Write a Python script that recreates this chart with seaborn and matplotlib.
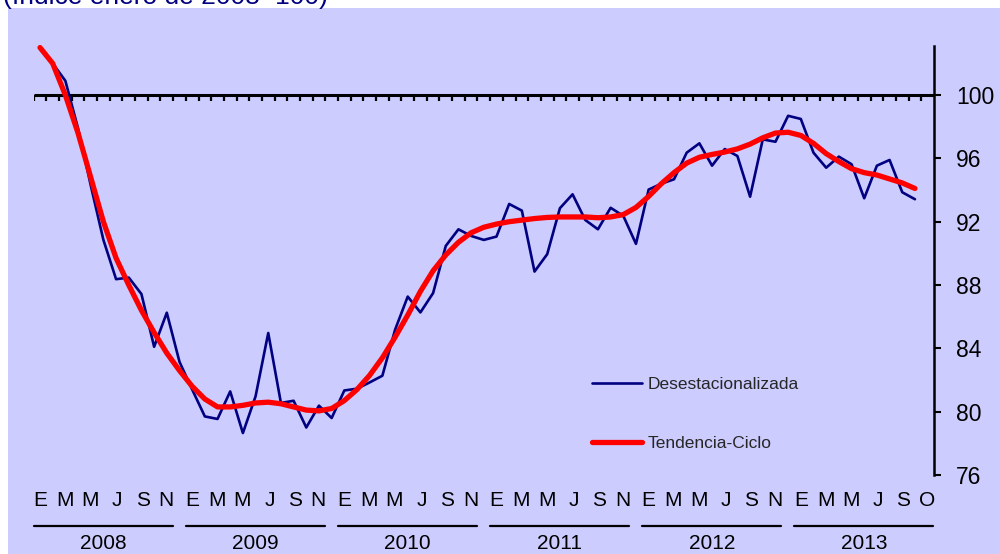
import numpy as np
import pandas as pd
import matplotlib
matplotlib.use("Agg")
import matplotlib.pyplot as plt
import matplotlib.transforms as mtransforms
from matplotlib.patches import Rectangle
from matplotlib.lines import Line2D
import seaborn as sns

# ------------------------------------------------------------
# Data (monthly index, Jan 2008 = 100), Jan 2008 .. Oct 2013
# ------------------------------------------------------------
desestacionalizada = [
    103.0, 102.0, 100.9, 97.9, 94.3, 90.85, 88.37, 88.47, 87.43, 84.1, 86.25, 83.15,
    81.4, 79.7, 79.54, 81.28, 78.65, 80.97, 84.97, 80.55, 80.69, 79.0, 80.38, 79.6,
    81.34, 81.45, 81.85, 82.27, 85.17, 87.27, 86.27, 87.49, 90.47, 91.52, 91.1, 90.85,
    91.06, 93.12, 92.7, 88.85, 89.95, 92.85, 93.73, 92.11, 91.52, 92.88, 92.37, 90.6,
    94.03, 94.4, 94.68, 96.36, 96.95, 95.54, 96.59, 96.15, 93.58, 97.2, 97.05, 98.69,
    98.49, 96.36, 95.41, 96.11, 95.63, 93.48, 95.54, 95.9, 93.86, 93.42,
]
tendencia_ciclo = [
    103.0, 102.0, 100.0, 97.6, 94.8, 92.0, 89.7, 88.0, 86.4, 85.0, 83.7, 82.6,
    81.6, 80.8, 80.3, 80.3, 80.4, 80.55, 80.6, 80.5, 80.3, 80.1, 80.05, 80.2,
    80.7, 81.4, 82.3, 83.4, 84.7, 86.1, 87.6, 88.9, 89.9, 90.7, 91.3, 91.65,
    91.85, 92.0, 92.1, 92.2, 92.27, 92.3, 92.3, 92.3, 92.25, 92.3, 92.45, 92.9,
    93.6, 94.4, 95.1, 95.7, 96.07, 96.25, 96.4, 96.6, 96.9, 97.3, 97.6, 97.65,
    97.45, 96.95, 96.3, 95.8, 95.35, 95.1, 94.95, 94.7, 94.45, 94.1,
]
years = ["2008", "2009", "2010", "2011", "2012", "2013"]
month_labels = ["E", "M", "M", "J", "S", "N"]
last_month_labels = ["E", "M", "M", "J", "S", "O"]
y_ticks = [76, 80, 84, 88, 92, 96, 100]
title = "(índice enero de 2008=100)"

NAVY = "#000080"
RED = "#FF0000"
LAVENDER = "#CCCCFF"

df = pd.DataFrame({
    "mes": np.arange(len(desestacionalizada)),
    "Desestacionalizada": desestacionalizada,
    "Tendencia-Ciclo": tendencia_ciclo,
})

sns.set_style("white")
plt.rcParams["font.family"] = ["Liberation Sans", "DejaVu Sans"]

fig = plt.figure(figsize=(10, 5.54), dpi=100, facecolor="white")
# lavender panel (the white strip on top/left is part of the original)
bg = Rectangle((0.008, 0), 0.992, 1 - 8 / 554, transform=fig.transFigure,
               facecolor=LAVENDER, edgecolor="none", zorder=-10)
fig.patches.append(bg)
# subtitle is clipped by the top edge in the original crop
fig.text(0.003, 1 - 4 / 554, title, color=NAVY, fontsize=19, ha="left", va="baseline")

ax = fig.add_axes([0.03366, 0.1426, 0.9003, 0.7744])
ax.set_facecolor("none")

sns.lineplot(data=df, x="mes", y="Desestacionalizada", color=NAVY, lw=1.9,
             label="Desestacionalizada", ax=ax, zorder=3)
sns.lineplot(data=df, x="mes", y="Tendencia-Ciclo", color=RED, lw=3.8,
             label="Tendencia-Ciclo", ax=ax, zorder=4)

ax.set_xlim(-0.5, 70.5)
ax.set_ylim(76, 103.1)
ax.set_xlabel("")
ax.set_ylabel("")

# horizontal axis drawn at 100 with ticks between months
ax.plot([-0.5, 70.5], [100, 100], color="black", lw=2.2, zorder=2, solid_capstyle="butt")
ax.vlines(np.arange(-0.5, 70, 1), 100 - 0.38, 100, color="black", lw=1.6, zorder=2)

# right value axis
for side in ["left", "top", "bottom"]:
    ax.spines[side].set_visible(False)
ax.spines["right"].set_linewidth(1.8)
ax.spines["right"].set_color("black")
ax.set_xticks([])
ax.yaxis.tick_right()
ax.set_yticks(y_ticks)
ax.tick_params(axis="y", direction="out", length=5, width=1.5, pad=11,
               labelsize=16.5, colors="black")

# month / year labels under the plot
trans = mtransforms.blended_transform_factory(ax.transData, fig.transFigure)
month_offsets = [0, 1.95, 3.95, 6.1, 8.1, 9.95]
for k, year in enumerate(years):
    start = 12 * k
    labels = last_month_labels if k == len(years) - 1 else month_labels
    for off, lab in zip(month_offsets, labels):
        ax.text(start + off, 0.0872, lab, transform=trans, ha="center", va="baseline",
                fontsize=15, color="black", clip_on=False)
    fig.add_artist(Line2D([start - 0.5, start + 10.45], [0.0511, 0.0511], transform=trans,
                          color="black", lw=1.6))
    ax.text(start + 5.0, 0.009, year, transform=trans, ha="center", va="baseline",
            fontsize=15, color="black", clip_on=False)

for line in ax.get_lines():
    line.set_clip_on(False)

ax.legend(loc="center left", bbox_to_anchor=(0.592, 1 - 414 / 554),
          bbox_transform=fig.transFigure, frameon=False, fontsize=12.5,
          borderpad=0, borderaxespad=0, handlelength=2.9, handletextpad=0.3,
          labelspacing=2.55)

fig.savefig("out.png", dpi=100, facecolor="white")
